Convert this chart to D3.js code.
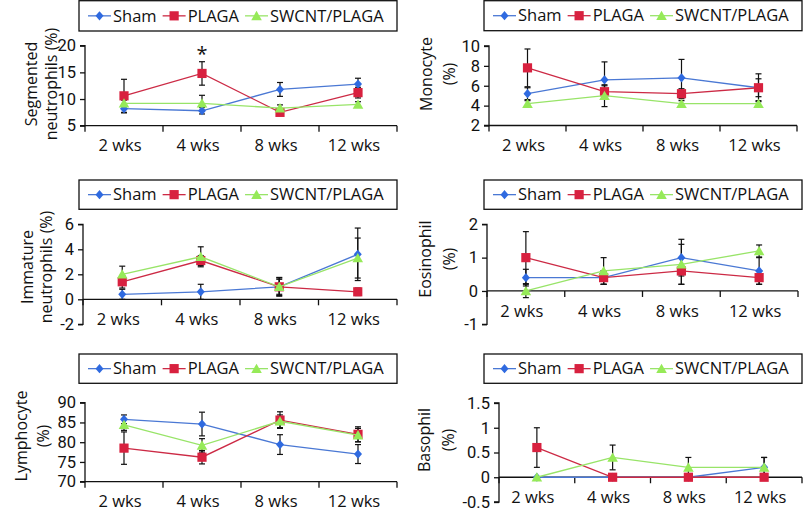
<!DOCTYPE html>
<html><head><meta charset="utf-8">
<script src="https://cdn.jsdelivr.net/npm/d3@7"></script>
<style>
body{margin:0;background:#fff}
svg{display:block}
text{font-family:"Open Sans",Lato,sans-serif;fill:#111}
text.ytick{font-family:Roboto,"Open Sans",sans-serif}
</style></head>
<body><svg id="c" width="807" height="512"></svg>
<script>
const categories = ["2 wks", "4 wks", "8 wks", "12 wks"];
const seriesNames = ["Sham", "PLAGA", "SWCNT/PLAGA"];

// Segmented neutrophils (%)
const segSham = [8.2, 7.8, 11.8, 12.8];
const segShamErr = [0.8, 0.6, 1.3, 1.1];
const segPlaga = [10.6, 14.8, 7.5, 11.2];
const segPlagaErr = [3.1, 2.2, 0.5, 1.0];
const segSwcnt = [9.2, 9.2, 8.3, 9.0];
const segSwcntErr = [0.6, 1.5, 0.6, 0.5];
const segSignif = ["", "*", "", ""];
const segTicks = [5, 10, 15, 20];

// Monocyte (%)
const monoSham = [5.2, 6.6, 6.8, 5.8];
const monoShamErr = [0.6, 1.8, 1.85, 0.9];
const monoPlaga = [7.8, 5.4, 5.2, 5.8];
const monoPlagaErr = [1.9, 0.6, 0.5, 1.4];
const monoSwcnt = [4.2, 5.0, 4.2, 4.2];
const monoSwcntErr = [0.3, 1.1, 0.3, 0.3];
const monoTicks = [2, 4, 6, 8, 10];

// Immature neutrophils (%)
const immSham = [0.4, 0.6, 1.0, 3.6];
const immShamErr = [0.4, 0.6, 0.75, 2.1];
const immPlaga = [1.4, 3.1, 1.0, 0.6];
const immPlagaErr = [0.5, 0.4, 0.7, 0.3];
const immSwcnt = [2.0, 3.4, 1.0, 3.3];
const immSwcntErr = [0.65, 0.8, 0.6, 1.6];
const immTicks = [-2, 0, 2, 4, 6];

// Eosinophil (%)
const eosSham = [0.4, 0.4, 1.0, 0.6];
const eosShamErr = [0.25, 0.2, 0.55, 0.4];
const eosPlaga = [1.0, 0.4, 0.6, 0.4];
const eosPlagaErr = [0.78, 0.2, 0.4, 0.2];
const eosSwcnt = [0.0, 0.6, 0.8, 1.2];
const eosSwcntErr = [0.2, 0.4, 0.6, 0.18];
const eosTicks = [-1, 0, 1, 2];

// Lymphocyte (%)
const lymSham = [85.8, 84.6, 79.4, 77.0];
const lymShamErr = [1.1, 3.0, 2.5, 2.4];
const lymPlaga = [78.5, 76.2, 85.6, 82.0];
const lymPlagaErr = [4.1, 1.7, 2.1, 1.9];
const lymSwcnt = [84.4, 79.2, 85.3, 81.8];
const lymSwcntErr = [1.4, 1.7, 1.6, 1.7];
const lymTicks = [70, 75, 80, 85, 90];

// Basophil (%)
const basoSham = [0, 0, 0, 0.2];
const basoShamErr = [0, 0, 0, 0.2];
const basoPlaga = [0.6, 0, 0, 0];
const basoPlagaErr = [0.4, 0, 0, 0];
const basoSwcnt = [0, 0.4, 0.2, 0.2];
const basoSwcntErr = [0, 0.25, 0.2, 0.2];
const basoTicks = [-0.5, 0, 0.5, 1, 1.5];

// ---- layout & styling ----
const seriesStyle = [
  {line: "#4a78d4", fill: "#2f6ae0", shape: "diamond"},
  {line: "#cc2a45", fill: "#d8213f", shape: "square"},
  {line: "#98e468", fill: "#96ea58", shape: "triangle"}
];

const panels = [
  {title: ["Segmented", "neutrophils (%)"], vals: [segSham, segPlaga, segSwcnt], errs: [segShamErr, segPlagaErr, segSwcntErr], ticks: segTicks, signif: segSignif,
   x: [85, 397], y: [125.7, 45.7], legend: [79, 0.7, 318, 30.3], tx: [31, 51], ty: 84},
  {title: ["Monocyte", "(%)"], vals: [monoSham, monoPlaga, monoSwcnt], errs: [monoShamErr, monoPlagaErr, monoSwcntErr], ticks: monoTicks,
   x: [489, 797], y: [125.5, 46], legend: [484, 0.7, 318, 30], tx: [426, 449], ty: 74},
  {title: ["Immature", "neutrophils (%)"], vals: [immSham, immPlaga, immSwcnt], errs: [immShamErr, immPlagaErr, immSwcntErr], ticks: immTicks,
   x: [83, 397], y: [324.3, 224.3], legend: [79, 180, 318, 29.3], tx: [27, 46], ty: 267},
  {title: ["Eosinophil", "(%)"], vals: [eosSham, eosPlaga, eosSwcnt], errs: [eosShamErr, eosPlagaErr, eosSwcntErr], ticks: eosTicks,
   x: [487, 798], y: [324.3, 224.3], legend: [484, 180, 318, 29.3], tx: [425, 449], ty: 259},
  {title: ["Lymphocyte", "(%)"], vals: [lymSham, lymPlaga, lymSwcnt], errs: [lymShamErr, lymPlagaErr, lymSwcntErr], ticks: lymTicks,
   x: [85, 397], y: [481.7, 402.7], legend: [79, 354, 318, 29.3], tx: [21, 43], ty: 436},
  {title: ["Basophil", "(%)"], vals: [basoSham, basoPlaga, basoSwcnt], errs: [basoShamErr, basoPlagaErr, basoSwcntErr], ticks: basoTicks,
   x: [499, 802], y: [502, 403], legend: [484, 354, 318, 29.3], tx: [424, 448], ty: 440}
];

const svg = d3.select("#c");

function markerPath(shape) {
  if (shape === "diamond") return "M0,-4.6L4,0L0,4.6L-4,0Z";
  if (shape === "square") return "M-4.6,-4.6H4.6V4.6H-4.6Z";
  return "M0,-5L5.3,4.3H-5.3Z";
}

panels.forEach(p => {
  const g = svg.append("g");
  const tickExt = d3.extent(p.ticks);
  const y = d3.scaleLinear().domain(tickExt).range(p.y);
  const x = d3.scaleBand().domain(categories).range(p.x);
  const baseVal = (tickExt[0] < 0 && tickExt[1] > 0) ? 0 : tickExt[0];
  const yBase = y(baseVal);

  // y axis
  const yAxis = d3.axisLeft(y).tickValues(p.ticks).tickSize(5).tickPadding(4).tickFormat(d => String(d));
  const ya = g.append("g").attr("transform", `translate(${p.x[0]},0)`).call(yAxis);
  ya.attr("font-family", null).attr("font-size", null);
  ya.select(".domain").attr("stroke", "#111").attr("stroke-width", 1.3).attr("d", `M-5,${p.y[1]}H0V${p.y[0]}H-5`);
  ya.selectAll(".tick line").attr("stroke", "#111").attr("stroke-width", 1.3);
  ya.selectAll(".tick text").attr("class", "ytick").style("font-size", "16.5px").attr("fill", "#111");

  // x axis (baseline)
  const xa = g.append("g").attr("transform", `translate(0,${yBase})`);
  xa.append("line").attr("x1", p.x[0]).attr("x2", p.x[1]).attr("stroke", "#111").attr("stroke-width", 1.3);
  const bounds = categories.map(c => x(c)).concat([p.x[1]]);
  xa.selectAll("line.tk").data(bounds).join("line").attr("class", "tk")
    .attr("x1", d => d).attr("x2", d => d).attr("y1", 0).attr("y2", 6)
    .attr("stroke", "#111").attr("stroke-width", 1.3);
  xa.selectAll("text").data(categories).join("text")
    .attr("x", d => x(d) + x.bandwidth() / 2 - 4).attr("y", 20).attr("dy", "0.35em")
    .attr("text-anchor", "middle").style("font-size", "16.5px").text(d => d);

  // y title
  p.title.forEach((t, i) => {
    g.append("text").attr("transform", `translate(${p.tx[i]},${p.ty}) rotate(-90)`)
      .attr("text-anchor", "middle").attr("dy", "0.35em").style("font-size", "16px").text(t);
  });

  const cx = i => x(categories[i]) + x.bandwidth() / 2;

  // error bars
  p.vals.forEach((vals, s) => {
    const errs = p.errs[s];
    const eg = g.append("g").attr("stroke", "#111").attr("stroke-width", 1.2);
    vals.forEach((v, i) => {
      const e = errs[i];
      if (!(e > 0)) return;
      const xc = cx(i), yt = y(v + e), yb = y(v - e);
      eg.append("line").attr("x1", xc).attr("x2", xc).attr("y1", yt).attr("y2", yb);
      eg.append("line").attr("x1", xc - 3).attr("x2", xc + 3).attr("y1", yt).attr("y2", yt);
      eg.append("line").attr("x1", xc - 3).attr("x2", xc + 3).attr("y1", yb).attr("y2", yb);
    });
  });

  // lines and markers
  p.vals.forEach((vals, s) => {
    const st = seriesStyle[s];
    const line = d3.line().x((d, i) => cx(i)).y(d => y(d));
    g.append("path").attr("d", line(vals)).attr("fill", "none").attr("stroke", st.line).attr("stroke-width", 1.3);
    g.selectAll(null).data(vals).join("path")
      .attr("transform", (d, i) => `translate(${cx(i)},${y(d)})`)
      .attr("d", markerPath(st.shape)).attr("fill", st.fill);
  });

  // significance marks
  if (p.signif) {
    p.signif.forEach((m, i) => {
      if (!m) return;
      const v = p.vals[1][i] + p.errs[1][i];
      g.append("text").attr("x", cx(i)).attr("y", y(v) - 1).attr("text-anchor", "middle")
        .style("font-size", "20px").text(m);
    });
  }

  // legend
  const [lx, ly, lw, lh] = p.legend;
  const lg = g.append("g");
  lg.append("rect").attr("x", lx).attr("y", ly).attr("width", lw).attr("height", lh)
    .attr("fill", "#fff").attr("stroke", "#111").attr("stroke-width", 1.3);
  let cur = lx + 9;
  const my = ly + lh / 2;
  seriesNames.forEach((n, s) => {
    const st = seriesStyle[s];
    lg.append("line").attr("x1", cur).attr("x2", cur + 23).attr("y1", my).attr("y2", my)
      .attr("stroke", st.line).attr("stroke-width", 1.3);
    lg.append("path").attr("transform", `translate(${cur + 11.5},${my})`).attr("d", markerPath(st.shape)).attr("fill", st.fill);
    const t = lg.append("text").attr("x", cur + 25).attr("y", my).attr("dy", "0.35em")
      .style("font-size", "16.5px").text(n);
    cur = cur + 25 + t.node().getComputedTextLength() + 6;
  });
});
</script>
</body></html>
